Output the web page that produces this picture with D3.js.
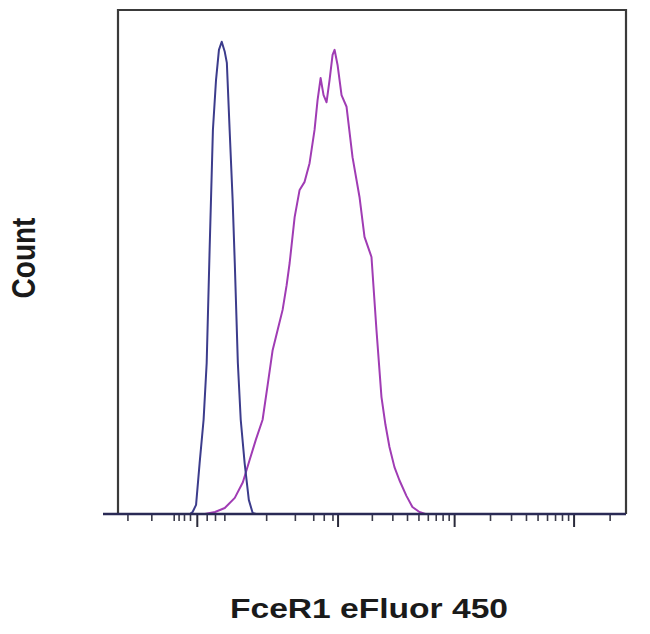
<!DOCTYPE html>
<html>
<head>
<meta charset="utf-8">
<script src="https://cdn.jsdelivr.net/npm/d3@7"></script>
<style>
  html, body { margin: 0; padding: 0; background: #fff; }
  svg { display: block; }
</style>
</head>
<body>
<svg id="chart" width="650" height="634"></svg>
<script>
// ---- data (fluorescence intensity, % of max count) ----
const controlX = [-10, -6, -1, 4, 10, 15, 20, 26, 32, 38, 44, 51, 56, 63, 71, 77, 86, 95, 108, 123, 138, 151];
const controlY = [0, 0.4, 1.8, 10.1, 18.7, 30, 52.4, 76.2, 86.1, 92.1, 93.7, 91.7, 89.5, 76.2, 62.3, 49.8, 30, 18.7, 10.1, 2.8, 0.2, 0];

const stainedX = [12, 30, 51, 77, 102, 126, 151, 182, 208, 236, 267, 301, 331, 355, 398, 445, 497, 554, 617, 658, 702, 747, 796, 847, 902, 940, 1000, 1085, 1202, 1357, 1562, 1727, 1985, 2192, 2421, 2619, 2834, 3127, 3448, 3954, 4446, 5096, 5725];
const stainedY = [0, 0.4, 1.2, 3.2, 6.3, 10.7, 14.7, 18.7, 25.6, 32.5, 36.5, 40.5, 45.4, 49.8, 58.9, 64.3, 65.9, 69.6, 76.2, 82.1, 86.5, 83.1, 81.7, 86.1, 91.1, 92.1, 89.1, 83.1, 80.8, 70.8, 62.9, 55.0, 51.0, 36.5, 23.2, 17.7, 13.3, 9.3, 6.7, 3.6, 1.4, 0.4, 0];

const majorTicks = [0, 1000, 10000, 100000];
const minorTicks = [-200, -100, -40, -30, -20, -10, 15, 30, 50, 200, 400, 600, 750, 900,
  2000, 3000, 4000, 5000, 6000, 7000, 8000, 9000,
  20000, 30000, 40000, 50000, 60000, 70000, 80000, 90000, 200000];

const xLabel = "FceR1 eFluor 450";
const yLabel = "Count";

// ---- layout ----
const pLeft = 118, pRight = 626, pTop = 10, pBottom = 514;
const svg = d3.select("#chart");

const x = d3.scaleSymlog().constant(71.6).domain([-254, 274000]).range([pLeft, pRight]);
const y = d3.scaleLinear().domain([0, 100]).range([pBottom, pTop]);

const line = d3.line().x(d => x(d[0])).y(d => y(d[1]));

// histograms
svg.append("path")
  .datum(d3.zip(stainedX, stainedY))
  .attr("d", line)
  .attr("fill", "none")
  .attr("stroke", "#a03cb4")
  .attr("stroke-width", 2)
  .attr("stroke-linejoin", "round");

svg.append("path")
  .datum(d3.zip(controlX, controlY))
  .attr("d", line)
  .attr("fill", "none")
  .attr("stroke", "#3c3c8c")
  .attr("stroke-width", 2)
  .attr("stroke-linejoin", "round");

// frame (top, left, right)
svg.append("path")
  .attr("d", `M${pLeft},${pBottom} V${pTop} H${pRight} V${pBottom}`)
  .attr("fill", "none")
  .attr("stroke", "#3a3a3a")
  .attr("stroke-width", 2.2);

// x axis: minor ticks
const axisG = svg.append("g").attr("transform", `translate(0,${pBottom})`);
axisG.call(d3.axisBottom(x).tickValues(minorTicks).tickSize(7).tickFormat(""))
  .call(g => g.select(".domain").remove())
  .call(g => g.selectAll(".tick line").attr("stroke", "#3a3a4a").attr("stroke-width", 1.6));

const majorG = svg.append("g").attr("transform", `translate(0,${pBottom})`);
majorG.call(d3.axisBottom(x).tickValues(majorTicks).tickSize(13).tickFormat(""))
  .call(g => g.select(".domain").remove())
  .call(g => g.selectAll(".tick line").attr("stroke", "#2a2a3a").attr("stroke-width", 2));

// baseline
svg.append("line")
  .attr("x1", 103).attr("x2", pRight)
  .attr("y1", pBottom).attr("y2", pBottom)
  .attr("stroke", "#2a2a55")
  .attr("stroke-width", 2.6);

// labels
svg.append("text")
  .attr("transform", `translate(369,618) scale(1.2,1)`)
  .attr("text-anchor", "middle")
  .attr("font-family", "Liberation Sans, Arial, sans-serif")
  .attr("font-weight", "bold")
  .attr("font-size", 28)
  .attr("fill", "#1a1a1a")
  .text(xLabel);

svg.append("text")
  .attr("transform", `translate(35,258) scale(1.2,1) rotate(-90)`)
  .attr("text-anchor", "middle")
  .attr("font-family", "Liberation Sans, Arial, sans-serif")
  .attr("font-weight", "bold")
  .attr("font-size", 28)
  .attr("fill", "#1a1a1a")
  .text(yLabel);
</script>
</body>
</html>
